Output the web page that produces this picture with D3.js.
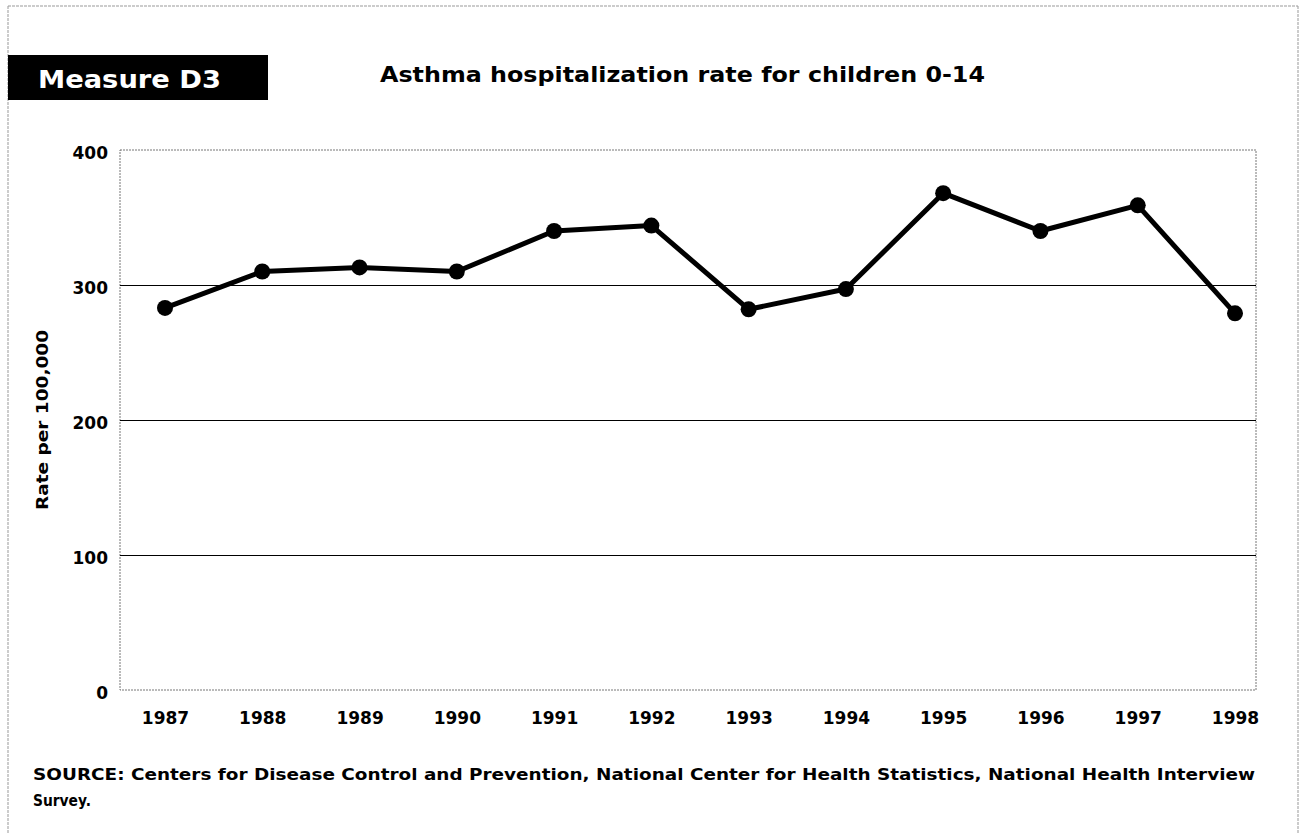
<!DOCTYPE html>
<html><head><meta charset="utf-8">
<script src="https://cdn.jsdelivr.net/npm/d3@7"></script>
<style>
html,body{margin:0;padding:0;background:#fff;}
svg{display:block;font-family:"DejaVu Sans",sans-serif;}
</style></head>
<body>
<script>
const years = ["1987","1988","1989","1990","1991","1992","1993","1994","1995","1996","1997","1998"];
const rates = [283, 310, 313, 310, 340, 344, 282, 297, 368, 340, 359, 279];
const yTicks = [0, 100, 200, 300, 400];
const gridTicks = [100, 200, 300];
const titleText = "Asthma hospitalization rate for children 0-14";
const measureText = "Measure D3";
const yAxisTitle = "Rate per 100,000";
const sourceLines = ["SOURCE:  Centers for Disease Control and Prevention, National Center for Health Statistics, National Health Interview", "Survey."];

(function(){
const W = 1304, H = 834;
const FONT = "'DejaVu Sans',sans-serif";
const svg = d3.select("body").append("svg").attr("width", W).attr("height", H);

// page frame
const frame = svg.append("g").attr("stroke", "#999").attr("stroke-width", 1).attr("stroke-dasharray", "3,1").attr("fill", "none");
frame.append("line").attr("x1", 8).attr("y1", 6).attr("x2", 1298).attr("y2", 6);
frame.append("line").attr("x1", 8).attr("y1", 6).attr("x2", 8).attr("y2", H);
frame.append("line").attr("x1", 1298).attr("y1", 6).attr("x2", 1298).attr("y2", H);

// header
svg.append("rect").attr("x", 8).attr("y", 55).attr("width", 260).attr("height", 45).attr("fill", "#000");
svg.append("text").attr("x", 38).attr("y", 88).attr("fill", "#fff").attr("font-size", 25).attr("font-weight", 700)
  .attr("textLength", 183).attr("lengthAdjust", "spacingAndGlyphs").text(measureText);
svg.append("text").attr("x", 380).attr("y", 82).attr("fill", "#000").attr("font-size", 22).attr("font-weight", 700)
  .attr("textLength", 605).attr("lengthAdjust", "spacingAndGlyphs").text(titleText);

// plot
const pL = 120, pR = 1256, pT = 150, pB = 690;
const x = d3.scalePoint().domain(years).range([165, 1235]);
const y = d3.scaleLinear().domain([0, 400]).range([pB, pT]);

svg.append("rect").attr("x", pL).attr("y", pT).attr("width", pR - pL).attr("height", pB - pT)
  .attr("fill", "none").attr("stroke", "#777").attr("stroke-width", 1).attr("stroke-dasharray", "2,1");

svg.append("g").selectAll("line").data(gridTicks).join("line")
  .attr("x1", pL).attr("x2", pR).attr("y1", d => Math.round(y(d)) + 0.5).attr("y2", d => Math.round(y(d)) + 0.5)
  .attr("stroke", "#000").attr("stroke-width", 1);

const yAxis = svg.append("g").attr("transform", `translate(${pL},0)`)
  .call(d3.axisLeft(y).tickValues(yTicks).tickSize(0).tickPadding(12));
yAxis.select(".domain").remove();
yAxis.selectAll("text").attr("font-size", 17).attr("font-weight", 700).attr("fill", "#000")
  .attr("font-family", FONT).attr("dy", "0.5em");

const xAxis = svg.append("g").attr("transform", `translate(0,${pB})`)
  .call(d3.axisBottom(x).tickSize(0).tickPadding(22));
xAxis.select(".domain").remove();
xAxis.selectAll("text").attr("font-size", 17).attr("font-weight", 700).attr("fill", "#000")
  .attr("font-family", FONT);

svg.append("text").attr("transform", "translate(48,420) rotate(-90)").attr("text-anchor", "middle")
  .attr("font-size", 16).attr("font-weight", 700).attr("textLength", 180).attr("lengthAdjust", "spacingAndGlyphs").text(yAxisTitle);

const data = years.map((yr, i) => ({yr, v: rates[i]}));
svg.append("path").datum(data)
  .attr("d", d3.line().x(d => x(d.yr)).y(d => y(d.v)))
  .attr("fill", "none").attr("stroke", "#000").attr("stroke-width", 5).attr("stroke-linejoin", "round");
svg.append("g").selectAll("circle").data(data).join("circle")
  .attr("cx", d => x(d.yr)).attr("cy", d => y(d.v)).attr("r", 8).attr("fill", "#000");

svg.append("text").attr("x", 33).attr("y", 780).attr("font-size", 15).attr("font-weight", 700)
  .attr("textLength", 1222).attr("lengthAdjust", "spacingAndGlyphs").text(sourceLines[0]);
svg.append("text").attr("x", 33).attr("y", 806).attr("font-size", 15).attr("font-weight", 700)
  .attr("textLength", 58).attr("lengthAdjust", "spacingAndGlyphs").text(sourceLines[1]);
})();
</script>
</body></html>
